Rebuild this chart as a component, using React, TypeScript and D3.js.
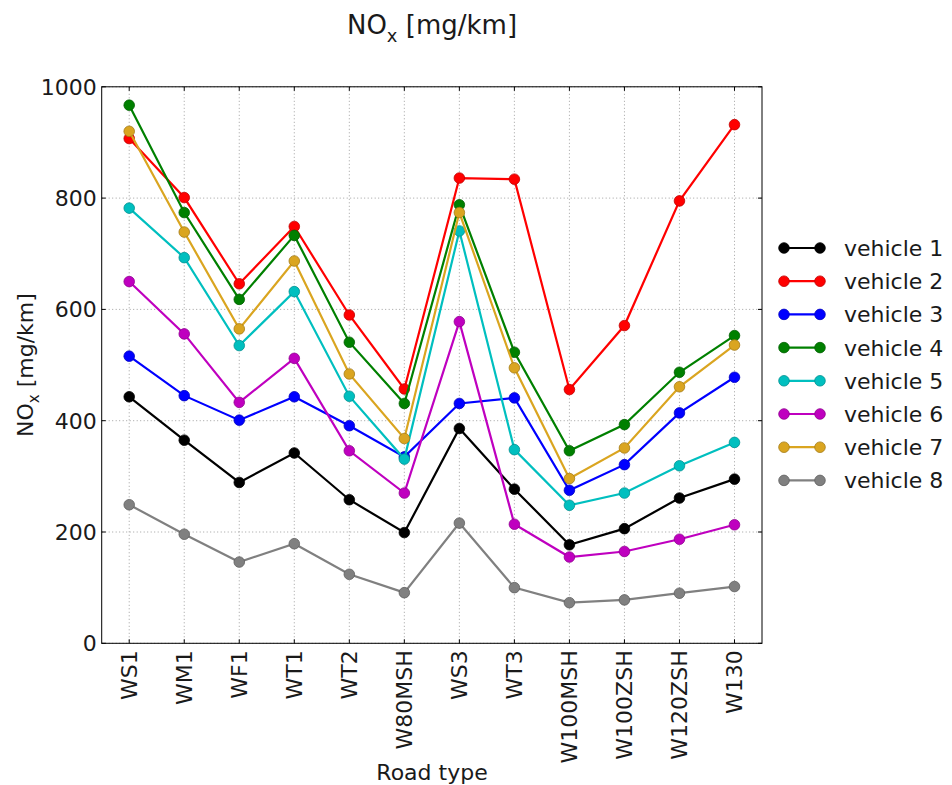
import React from 'react';
import * as d3 from 'd3';

const categories = ['WS1', 'WM1', 'WF1', 'WT1', 'WT2', 'W80MSH', 'WS3', 'WT3', 'W100MSH', 'W100ZSH', 'W120ZSH', 'W130'];
const seriesNames = ['vehicle 1', 'vehicle 2', 'vehicle 3', 'vehicle 4', 'vehicle 5', 'vehicle 6', 'vehicle 7', 'vehicle 8'];
const vehicle1 = [443, 365, 289, 342, 258, 199, 386, 277, 177, 206, 261, 295];
const vehicle2 = [907, 801, 646, 749, 590, 457, 836, 834, 456, 571, 795, 932];
const vehicle3 = [516, 445, 401, 443, 391, 335, 431, 441, 275, 321, 414, 478];
const vehicle4 = [967, 774, 618, 733, 541, 431, 788, 523, 346, 393, 487, 553];
const vehicle5 = [782, 693, 535, 632, 444, 331, 741, 348, 248, 270, 319, 361];
const vehicle6 = [650, 556, 433, 512, 346, 270, 578, 214, 155, 165, 187, 213];
const vehicle7 = [920, 739, 565, 687, 484, 368, 774, 495, 296, 351, 461, 536];
const vehicle8 = [249, 196, 146, 179, 124, 91, 216, 100, 73, 78, 90, 102];
const yTicks = [0, 200, 400, 600, 800, 1000];
const colors = ['#000000', '#ff0000', '#0000ff', '#008000', '#00bfbf', '#bf00bf', '#daa520', '#808080'];

const seriesValues = [vehicle1, vehicle2, vehicle3, vehicle4, vehicle5, vehicle6, vehicle7, vehicle8];

const FONT = '"DejaVu Sans", sans-serif';

export default function App() {
  const left = 101.7, right = 762, top = 86.8, bottom = 643.3;
  const x = d3.scalePoint<string>().domain(categories).range([left, right]).padding(0.5);
  const y = d3.scaleLinear().domain([0, 1000]).range([bottom, top]);
  const line = d3.line<number>().x((_, i) => x(categories[i]) as number).y(d => y(d));

  const legendY0 = 248, legendStep = 33.2;
  const edge = (c: string) => d3.color(c)!.darker(0.8).toString();

  return (
    <svg width={952} height={785} style={{ position: 'absolute', left: 0, top: 0, background: '#fff' }} fontFamily={FONT}>
      <rect x={0} y={0} width={952} height={785} fill="#fff" />
      {/* title */}
      <text x={432} y={34} textAnchor="middle" fontSize={26} fill="#1a1a1a">
        NO<tspan fontSize={18} dy={8}>x</tspan><tspan dy={-8}>{'  [mg/km]'}</tspan>
      </text>
      {/* grid */}
      {categories.map(c => (
        <line key={'gx' + c} x1={x(c)} x2={x(c)} y1={top} y2={bottom} stroke="#888" strokeWidth={0.8} strokeDasharray="1,2.5" />
      ))}
      {yTicks.map(t => (
        <line key={'gy' + t} x1={left} x2={right} y1={y(t)} y2={y(t)} stroke="#888" strokeWidth={0.8} strokeDasharray="1,2.5" />
      ))}
      {/* ticks */}
      {categories.map(c => (
        <g key={'tx' + c}>
          <line x1={x(c)} x2={x(c)} y1={bottom} y2={bottom - 4} stroke="#000" />
          <line x1={x(c)} x2={x(c)} y1={top} y2={top + 4} stroke="#000" />
          <text transform={`translate(${(x(c) as number) + 8},${bottom + 7}) rotate(-90)`} textAnchor="end" fontSize={22} fill="#1a1a1a">{c}</text>
        </g>
      ))}
      {yTicks.map(t => (
        <g key={'ty' + t}>
          <line x1={left} x2={left + 4} y1={y(t)} y2={y(t)} stroke="#000" />
          <line x1={right} x2={right - 4} y1={y(t)} y2={y(t)} stroke="#000" />
          <text x={left - 5} y={y(t) + 8} textAnchor="end" fontSize={22} fill="#1a1a1a">{t}</text>
        </g>
      ))}
      {/* series */}
      {seriesValues.map((vals, si) => (
        <g key={'s' + si}>
          <path d={line(vals) || ''} fill="none" stroke={colors[si]} strokeWidth={2.2} />
          {vals.map((v, i) => (
            <circle key={i} cx={x(categories[i])} cy={y(v)} r={5.3} fill={colors[si]} stroke={edge(colors[si])} strokeWidth={0.8} />
          ))}
        </g>
      ))}
      {/* frame */}
      <rect x={left} y={top} width={right - left} height={bottom - top} fill="none" stroke="#000" strokeWidth={1} />
      {/* axis labels */}
      <text x={432} y={780} textAnchor="middle" fontSize={22} fill="#1a1a1a">Road type</text>
      <text transform={`translate(33,${(top + bottom) / 2}) rotate(-90)`} textAnchor="middle" fontSize={22} fill="#1a1a1a">
        NO<tspan fontSize={15} dy={6}>x</tspan><tspan dy={-6}>{'  [mg/km]'}</tspan>
      </text>
      {/* legend */}
      {seriesNames.map((n, i) => {
        const ly = legendY0 + i * legendStep;
        return (
          <g key={'l' + i}>
            <line x1={784} x2={820} y1={ly} y2={ly} stroke={colors[i]} strokeWidth={2.2} />
            <circle cx={784} cy={ly} r={5.3} fill={colors[i]} stroke={edge(colors[i])} strokeWidth={0.8} />
            <circle cx={820} cy={ly} r={5.3} fill={colors[i]} stroke={edge(colors[i])} strokeWidth={0.8} />
            <text x={844} y={ly + 8} fontSize={22} fill="#1a1a1a">{n}</text>
          </g>
        );
      })}
    </svg>
  );
}
